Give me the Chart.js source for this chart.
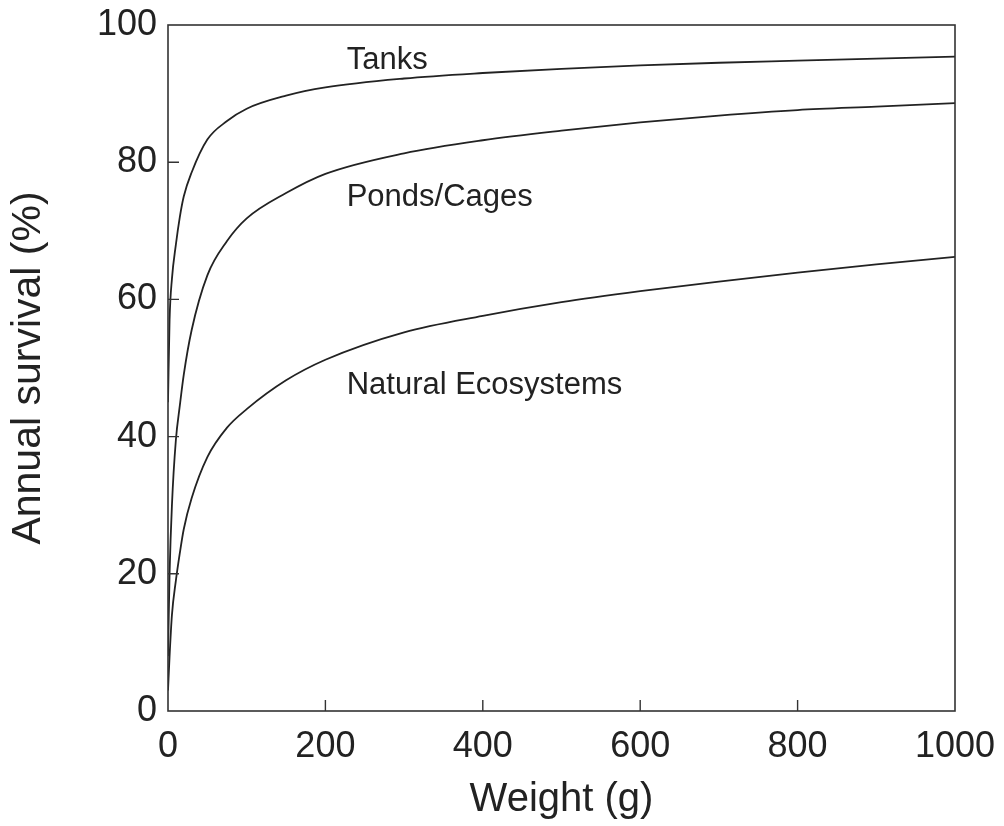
<!DOCTYPE html>
<html>
<head>
<meta charset="utf-8">
<script src="https://cdn.jsdelivr.net/npm/chart.js@4/dist/chart.umd.min.js"></script>
<style>
  html, body { margin: 0; padding: 0; background: #fff; }
  #wrap { width: 1004px; height: 826px; }
</style>
</head>
<body>
<div id="wrap"><canvas id="survivalChart" width="1004" height="826"></canvas></div>
<script>
// --- data ---
const weights = [0, 2, 5, 10, 15, 20, 30, 50, 75, 100, 150, 200, 300, 400, 500, 600, 700, 800, 900, 1000];
const tanks = [45, 57, 63, 68, 72, 75, 78.5, 83.3, 86, 87.8, 89.7, 90.9, 92.2, 93.0, 93.6, 94.1, 94.5, 94.8, 95.1, 95.4];
const pondsCages = [8, 20, 30, 39.5, 44.5, 49, 55.5, 63.5, 68.5, 71.8, 75.5, 78.3, 81.3, 83.2, 84.6, 85.8, 86.8, 87.6, 88.1, 88.6];
const naturalEcosystems = [3, 8, 14, 19, 23, 26.5, 31, 37, 41.3, 44, 48.2, 51.2, 55.2, 57.6, 59.6, 61.2, 62.6, 63.9, 65.1, 66.2];

const xTicks = [0, 200, 400, 600, 800, 1000];
const yTicks = [0, 20, 40, 60, 80, 100];

// curve labels: [text, x value, y value]
const curveLabels = [
  ["Tanks", 227, 94.9],
  ["Ponds/Cages", 227, 74.9],
  ["Natural Ecosystems", 227, 47.5],
];

const ink = "#222";
const fontFamily = "'Liberation Sans', Arial, Helvetica, sans-serif";

function toPoints(ys) {
  return weights.map((w, i) => ({ x: w, y: ys[i] }));
}

// frame, inward ticks and curve labels
const framePlugin = {
  id: "frame",
  afterDatasetsDraw(chart) {
    const { ctx, chartArea: a, scales } = chart;
    ctx.save();
    ctx.strokeStyle = "#333";
    ctx.lineWidth = 1.6;
    ctx.strokeRect(a.left, a.top, a.right - a.left, a.bottom - a.top);

    ctx.lineWidth = 1.4;
    ctx.beginPath();
    yTicks.slice(1, -1).forEach((v) => {
      const py = scales.y.getPixelForValue(v);
      ctx.moveTo(a.left, py);
      ctx.lineTo(a.left + 11, py);
    });
    xTicks.slice(1, -1).forEach((v) => {
      const px = scales.x.getPixelForValue(v);
      ctx.moveTo(px, a.bottom);
      ctx.lineTo(px, a.bottom - 11);
    });
    ctx.stroke();

    ctx.fillStyle = ink;
    ctx.font = "31px " + fontFamily;
    ctx.textAlign = "left";
    ctx.textBaseline = "middle";
    curveLabels.forEach(([text, x, y]) => {
      ctx.fillText(text, scales.x.getPixelForValue(x), scales.y.getPixelForValue(y));
    });
    ctx.restore();
  },
};

const lineStyle = {
  borderColor: ink,
  borderWidth: 1.8,
  pointRadius: 0,
  showLine: true,
  fill: false,
  cubicInterpolationMode: "monotone",
};

new Chart(document.getElementById("survivalChart").getContext("2d"), {
  type: "scatter",
  data: {
    datasets: [
      { label: "Tanks", data: toPoints(tanks), ...lineStyle },
      { label: "Ponds/Cages", data: toPoints(pondsCages), ...lineStyle },
      { label: "Natural Ecosystems", data: toPoints(naturalEcosystems), ...lineStyle },
    ],
  },
  options: {
    responsive: false,
    animation: false,
    devicePixelRatio: 1,
    layout: { padding: { left: 0, right: 49, top: 25, bottom: 0 } },
    plugins: {
      legend: { display: false },
      tooltip: { enabled: false },
    },
    scales: {
      x: {
        type: "linear",
        min: 0,
        max: 1000,
        afterBuildTicks: (scale) => { scale.ticks = xTicks.map((v) => ({ value: v })); },
        afterFit: (scale) => {
          scale.height = 115;
          scale.paddingLeft = 0;
          scale.paddingRight = 0;
        },
        grid: { display: false, drawTicks: false },
        border: { display: false },
        ticks: {
          color: ink,
          padding: 14,
          maxRotation: 0,
          callback: (v) => String(v),
          font: { family: fontFamily, size: 36 },
        },
        title: {
          display: true,
          text: "Weight (g)",
          color: ink,
          padding: { top: 0, bottom: 2 },
          font: { family: fontFamily, size: 40 },
        },
      },
      y: {
        type: "linear",
        min: 0,
        max: 100,
        afterBuildTicks: (scale) => { scale.ticks = yTicks.map((v) => ({ value: v })); },
        afterFit: (scale) => {
          scale.width = 168;
          scale.paddingTop = 0;
          scale.paddingBottom = 0;
        },
        grid: { display: false, drawTicks: false },
        border: { display: false },
        ticks: {
          color: ink,
          padding: 11,
          callback: (v) => String(v),
          font: { family: fontFamily, size: 36 },
        },
        title: {
          display: true,
          text: "Annual survival (%)",
          color: ink,
          padding: { top: 4, bottom: 0 },
          font: { family: fontFamily, size: 41 },
        },
      },
    },
  },
  plugins: [framePlugin],
});
</script>
</body>
</html>
